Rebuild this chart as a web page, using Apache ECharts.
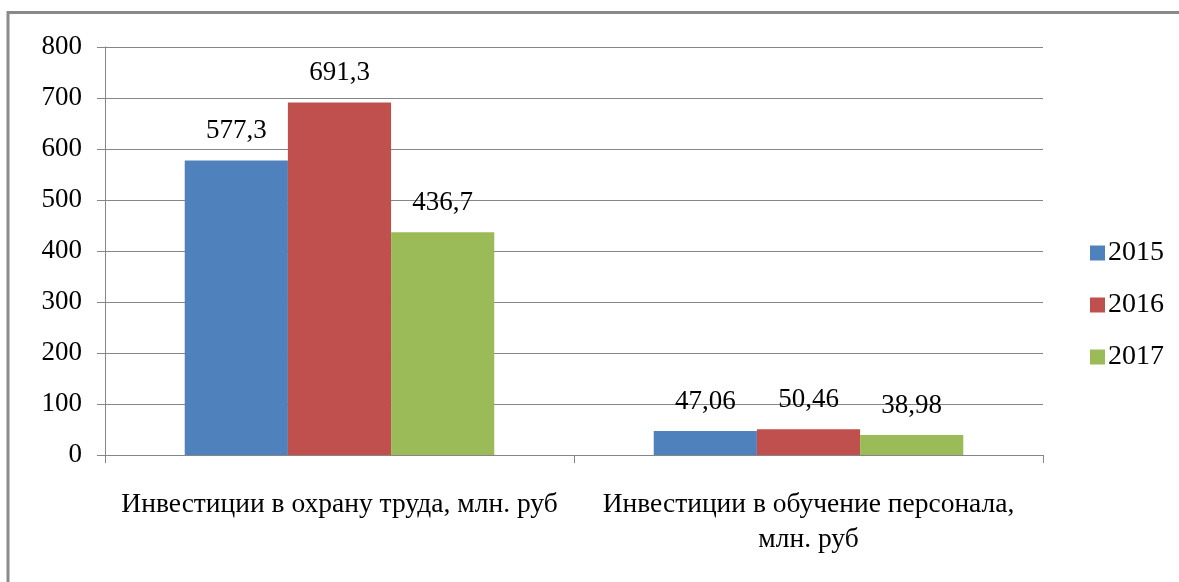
<!DOCTYPE html>
<html>
<head>
<meta charset="utf-8">
<script src="https://cdn.jsdelivr.net/npm/echarts@6/dist/echarts.min.js"></script>
<style>
html,body{margin:0;padding:0;background:#fff;}
#chart{width:1179px;height:582px;}
</style>
</head>
<body>
<div id="chart"></div>
<script>
const categories = ["Инвестиции в охрану труда, млн. руб", "Инвестиции в обучение персонала,\nмлн. руб"];
const seriesNames = ["2015", "2016", "2017"];
const values2015 = [577.3, 47.06];
const values2016 = [691.3, 50.46];
const values2017 = [436.7, 38.98];
const colors = ["#4F81BD", "#C0504D", "#9BBB59"];

const font = "'Liberation Serif', 'Times New Roman', serif";
const chart = echarts.init(document.getElementById('chart'));
const allValues = [values2015, values2016, values2017];

chart.setOption({
  animation: false,
  backgroundColor: '#fff',
  graphic: [{
    type: 'polyline',
    shape: {points: [[8, 600], [8, 12.5], [1200, 12.5]]},
    style: {fill: 'none', stroke: '#8a8a8a', lineWidth: 3},
    silent: true
  }],
  grid: {left: 105, right: 136, top: 47, bottom: 127, containLabel: false},
  legend: {
    orient: 'vertical',
    left: 1085,
    top: 234,
    itemWidth: 15,
    itemHeight: 15,
    itemGap: 24,
    icon: 'rect',
    textStyle: {fontFamily: font, fontSize: 28, color: '#000', padding: [0,0,0,-2]},
    data: seriesNames
  },
  xAxis: {
    type: 'category',
    data: categories,
    axisLine: {lineStyle: {color: '#868686', width: 1}},
    axisTick: {show: true, length: 8, lineStyle: {color: '#868686'}},
    axisLabel: {fontFamily: font, fontSize: 27.5, color: '#000', margin: 32, lineHeight: 35, interval: 0}
  },
  yAxis: {
    type: 'value',
    min: 0, max: 800, interval: 100,
    axisLine: {show: true, lineStyle: {color: '#868686'}},
    axisTick: {show: true, length: 8, lineStyle: {color: '#868686'}},
    splitLine: {lineStyle: {color: '#868686', width: 1}},
    axisLabel: {fontFamily: font, fontSize: 27, color: '#000', margin: 23}
  },
  series: seriesNames.map((name, i) => ({
    name: name,
    type: 'bar',
    data: allValues[i],
    barGap: '0%',
    barCategoryGap: '34%',
    itemStyle: {color: colors[i]},
    label: {
      show: true,
      position: 'top',
      distance: 16,
      fontFamily: font,
      fontSize: 27,
      color: '#000',
      formatter: p => String(p.value).replace('.', ',')
    }
  }))
});
</script>
</body>
</html>
